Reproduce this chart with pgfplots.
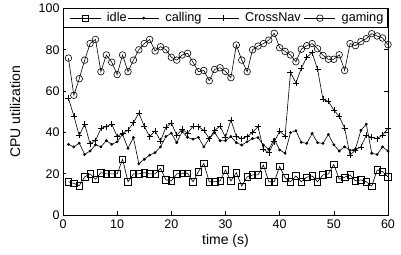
\documentclass[border=0pt]{standalone}
\usepackage{fontspec}
\setmainfont{Liberation Sans}
\usepackage{pgfplots}
\pgfplotsset{compat=1.18}
\pgfplotsset{mylegend/.style={legend image code/.code={\draw[mark repeat=2,mark phase=2,##1] plot coordinates {(0bp,0bp) (15.5bp,0bp) (31bp,0bp)};}}}
\begin{document}
\begin{tikzpicture}
\path[use as bounding box] (-63bp,-40bp) rectangle (338bp,215bp);
\begin{axis}[
  scale only axis, width=325bp, height=206.5bp,
  xmin=0, xmax=60, ymin=0, ymax=100,
  xtick={0,10,...,60}, ytick={0,20,...,100},
  tick align=inside, major tick length=3.5bp,
  axis line style={line width=0.8bp},
  every tick/.style={black, line width=0.6bp},
  /pgf/number format/assume math mode=true,
  ticklabel style={font=\fontsize{12.5bp}{14bp}\selectfont},
  xticklabel style={yshift=-1bp},
  xlabel={time (s)}, ylabel={CPU utilization},
  every axis x label/.style={at={(axis description cs:0.5,0)}, yshift=-26bp, anchor=center, font=\fontsize{14bp}{16bp}\selectfont},
  every axis y label/.style={at={(axis description cs:0,0.5)}, xshift=-48bp, rotate=90, anchor=center, font=\fontsize{14bp}{16bp}\selectfont},
  legend columns=4,
  legend style={at={(0,1)}, anchor=north west, draw=black, line width=0.6bp,
    font=\fontsize{12.7bp}{14bp}\selectfont, inner xsep=6bp, inner ysep=2bp,
    nodes={inner xsep=0bp, inner ysep=2bp},
    /tikz/every odd column/.append style={column sep=6bp},
    /tikz/every even column/.append style={column sep=0bp}},
  every axis plot/.append style={black, line width=0.6bp},
]
\addplot[mylegend, mark=square, mark size=3.2bp] coordinates {
(1,16.1)(2,15.3)(3,14.2)(4,18.5)(5,19.9)(6,17.3)(7,20.5)(8,19.9)(9,19.9)(10,19.9)
(11,27)(12,16.1)(13,19.9)(14,19.9)(15,20.5)(16,19.9)(17,19.9)(18,22.6)(19,17)(20,16.5)
(21,19.9)(22,20.2)(23,20.2)(24,16.1)(25,21)(26,25)(27,16.1)(28,16.1)(29,16.5)(30,21.8)
(31,16.5)(32,20.5)(33,14)(34,18.5)(35,19.4)(36,19.4)(37,24.2)(38,16.1)(39,16.1)(40,23.5)
(41,18)(42,16.1)(43,18.9)(44,16.1)(45,18.3)(46,18.9)(47,16.1)(48,19.4)(49,19.9)(50,24.5)
(51,17.3)(52,18.3)(53,19.4)(54,16.5)(55,17)(56,16.1)(57,14)(58,21.8)(59,21)(60,18.5)};
\addlegendentry{\makebox[21bp][l]{idle}}
\addplot[mylegend, mark=*, mark size=1.1bp] coordinates {
(1,34.2)(2,33)(3,34.8)(4,29.3)(5,31)(6,34)(7,33)(8,36)(9,34.2)(10,35.5)
(11,39)(12,32.3)(13,37.5)(14,24.8)(15,27)(16,29)(17,30.2)(18,33)(19,38)(20,39.6)
(21,35)(22,40.4)(23,37.6)(24,36.7)(25,37.6)(26,33)(27,37)(28,39.9)(29,36)(30,36)
(31,38)(32,35)(33,33.9)(34,35.5)(35,37)(36,37.5)(37,33.9)(38,31.8)(39,36.7)(40,31.5)
(41,29.9)(42,39.9)(43,40.8)(44,35.2)(45,34.7)(46,39.5)(47,35)(48,34.7)(49,39)(50,34)
(51,31)(52,33)(53,31.3)(54,32)(55,41)(56,44)(57,29.9)(58,29.3)(59,33)(60,31)};
\addlegendentry{\makebox[42bp][l]{calling}}
\addplot[mylegend, mark=+, mark size=3bp] coordinates {
(1,56.5)(2,48)(3,38.5)(4,44)(5,34.5)(6,36)(7,42)(8,42.8)(9,44)(10,38)
(11,39.6)(12,41)(13,44.7)(14,49.4)(15,43)(16,38)(17,40.7)(18,35.8)(19,42.5)(20,44.5)
(21,38.7)(22,41.5)(23,39.6)(24,43)(25,42.8)(26,41)(27,37)(28,41)(29,43)(30,37.6)
(31,46)(32,38)(33,37)(34,38)(35,40)(36,42.8)(37,31.8)(38,30.2)(39,35.5)(40,40.5)
(41,38.3)(42,69)(43,64)(44,71)(45,76.4)(46,78.6)(47,70.5)(48,56)(49,55)(50,50.8)
(51,47.8)(52,42)(53,29)(54,31.5)(55,33)(56,38.7)(57,37.6)(58,37)(59,38.7)(60,42)};
\addlegendentry{\makebox[59bp][l]{CrossNav}}
\addplot[mylegend, mark=o, mark size=3.3bp] coordinates {
(1,76)(2,58)(3,66)(4,75)(5,83)(6,85)(7,69.4)(8,77.5)(9,74)(10,68)
(11,77.5)(12,69.4)(13,75)(14,80)(15,83)(16,85)(17,79.4)(18,81.5)(19,80)(20,76.4)
(21,75)(22,77.5)(23,78.3)(24,74)(25,69.4)(26,70)(27,65)(28,70.5)(29,71.3)(30,69.5)
(31,66.5)(32,82.3)(33,75)(34,69.4)(35,80)(36,81.8)(37,83)(38,84.7)(39,88)(40,81)
(41,79.2)(42,77.5)(43,74.2)(44,80.3)(45,82)(46,83)(47,80.5)(48,77.3)(49,75.4)(50,75.4)
(51,77.6)(52,70)(53,83)(54,82)(55,84)(56,85.4)(57,87.8)(58,86.7)(59,85.7)(60,82.5)};
\addlegendentry{\makebox[40bp][l]{gaming}}
\end{axis}
\end{tikzpicture}
\end{document}
